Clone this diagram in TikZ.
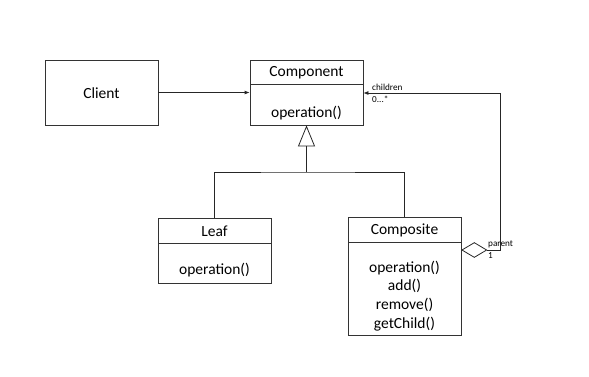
\documentclass[tikz,border=0pt]{standalone}
\usepackage{fontspec}
\setmainfont{Carlito}
\usetikzlibrary{arrows.meta,shapes.geometric}
\begin{document}
\begin{tikzpicture}[x=1pt,y=-1pt,
  box/.style={draw=black!80,line width=0.8pt,rectangle,minimum width=113pt,inner sep=0pt},
  lbl/.style={font=\fontsize{15.5}{18.7}\selectfont,inner sep=0pt,align=center},
  small/.style={font=\fontsize{9.2}{10}\selectfont,inner sep=0pt,anchor=west},
  conn/.style={draw=black!85,line width=0.8pt},
  tip/.style={-{Latex[length=5pt,width=4pt]}}]
\useasboundingbox (0,0) rectangle (589,376);
% Client
\node[box,minimum height=65pt] (client) at (101.5,92.5) {};
\node[lbl] (clientL) at (101.5,93) {Client};
% Component
\node[box,minimum height=24pt] (compT) at (306.5,72) {};
\node[box,minimum height=41pt] (compB) at (306.5,104.5) {};
\node[lbl] (compTL) at (306.5,73) {Component};
\node[lbl] (compBL) at (306.5,113) {operation()};
% Leaf
\node[box,minimum height=25pt] (leafT) at (214.5,230.5) {};
\node[box,minimum height=40pt] (leafB) at (214.5,263) {};
\node[lbl] (leafTL) at (214.5,231) {Leaf};
\node[lbl] (leafBL) at (214.5,270) {operation()};
% Composite
\node[box,minimum height=25pt] (compoT) at (404.5,229.5) {};
\node[box,minimum height=93pt] (compoB) at (404.5,288.5) {};
\node[lbl] (compoTL) at (404.5,230) {Composite};
\node[lbl] (compoBL) at (404.5,296) {operation()\\add()\\remove()\\getChild()};
% diamond
\node[draw=black!85,line width=0.8pt,diamond,minimum width=25pt,minimum height=15pt,inner sep=0pt,anchor=west] (dia) at (compoB.north east |- 0,250) {};
% connectors
\draw[conn,tip] (client.east) -- (client.east -| compB.west);
\coordinate (j) at (306.5,172);
\coordinate (r1) at (500,250);
\coordinate (r2) at (500,93);
\draw[conn,-{Triangle[open,length=21pt,width=17pt]}] (j) -- (compB.south);
\draw[conn] (leafT.north) |- (j) -| (compoT.north);
\draw[conn,tip] (dia.east) -- (r1) -- (r2) -- (r2 -| compB.east);
% labels
\node[small] (ch) at (372,87) {children};
\node[small] (mult) at (372,99) {0...*};
\node[small] (par) at (488,244) {parent};
\node[small] (one) at (488,256) {1};
\end{tikzpicture}
\end{document}
